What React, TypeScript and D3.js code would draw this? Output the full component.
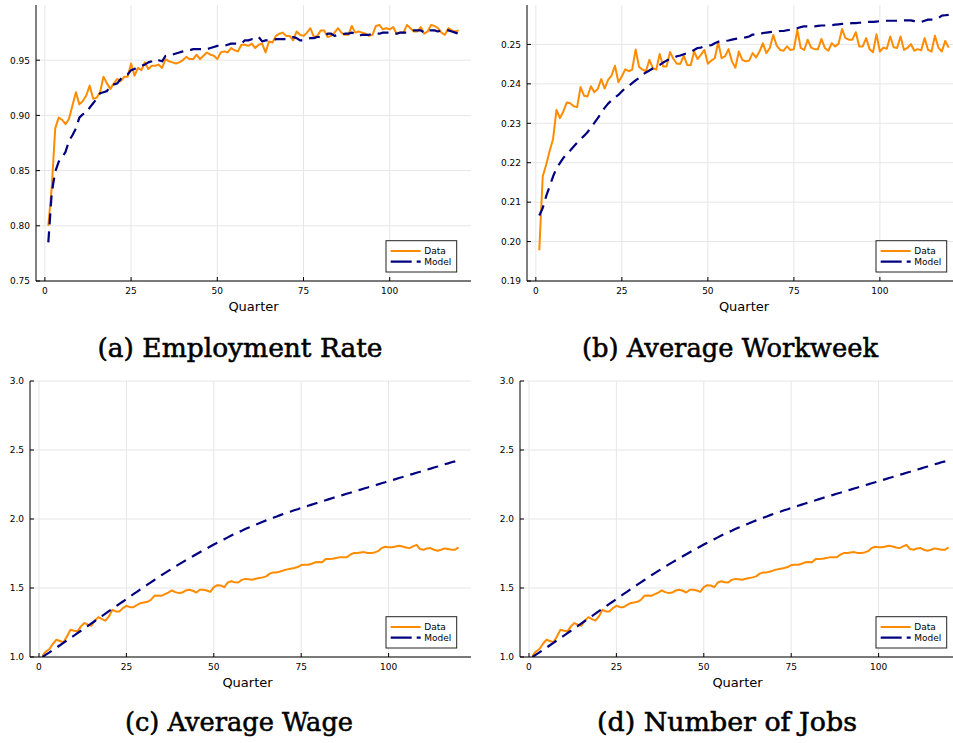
import React from 'react';
import * as d3 from 'd3';

// ---------------- data ----------------
const quarters = d3.range(1, 121);
const xTicks = [0, 25, 50, 75, 100];

const empData = [
  0.800, 0.835, 0.888, 0.898, 0.896, 0.892, 0.897, 0.909, 0.921, 0.910,
  0.913, 0.918, 0.927, 0.915, 0.916, 0.921, 0.935, 0.929, 0.924, 0.929,
  0.933, 0.931, 0.935, 0.935, 0.947, 0.936, 0.943, 0.941, 0.948, 0.942,
  0.945, 0.945, 0.946, 0.943, 0.951, 0.949, 0.948, 0.947, 0.948, 0.950,
  0.953, 0.951, 0.951, 0.955, 0.951, 0.954, 0.957, 0.955, 0.954, 0.951,
  0.957, 0.958, 0.957, 0.961, 0.959, 0.958, 0.964, 0.964, 0.963, 0.965,
  0.961, 0.964, 0.965, 0.957, 0.967, 0.966, 0.972, 0.974, 0.975, 0.972,
  0.972, 0.968, 0.976, 0.973, 0.972, 0.975, 0.979, 0.971, 0.972, 0.977,
  0.977, 0.971, 0.972, 0.975, 0.979, 0.975, 0.973, 0.973, 0.981, 0.975,
  0.976, 0.975, 0.974, 0.972, 0.973, 0.981, 0.982, 0.978, 0.979, 0.978,
  0.980, 0.974, 0.975, 0.975, 0.982, 0.979, 0.976, 0.976, 0.980, 0.974,
  0.976, 0.982, 0.981, 0.979, 0.975, 0.973, 0.979, 0.977, 0.976, 0.977,
];
const empModel = [
  0.785, 0.830, 0.849, 0.858, 0.862, 0.867, 0.877, 0.882, 0.888, 0.898,
  0.901, 0.902, 0.907, 0.911, 0.915, 0.920, 0.921, 0.922, 0.927, 0.928,
  0.929, 0.933, 0.936, 0.937, 0.941, 0.942, 0.944, 0.945, 0.946, 0.948,
  0.949, 0.951, 0.950, 0.949, 0.954, 0.954, 0.955, 0.956, 0.957, 0.958,
  0.959, 0.959, 0.960, 0.960, 0.960, 0.960, 0.960, 0.961, 0.962, 0.963,
  0.963, 0.963, 0.964, 0.965, 0.965, 0.965, 0.965, 0.968, 0.968, 0.969,
  0.969, 0.971, 0.967, 0.968, 0.968, 0.968, 0.969, 0.969, 0.969, 0.969,
  0.970, 0.971, 0.970, 0.968, 0.968, 0.969, 0.970, 0.970, 0.971, 0.971,
  0.972, 0.974, 0.974, 0.972, 0.973, 0.973, 0.974, 0.974, 0.975, 0.974,
  0.972, 0.973, 0.973, 0.973, 0.974, 0.974, 0.974, 0.975, 0.975, 0.975,
  0.974, 0.974, 0.975, 0.975, 0.975, 0.976, 0.977, 0.977, 0.977, 0.975,
  0.977, 0.977, 0.977, 0.976, 0.977, 0.977, 0.977, 0.976, 0.975, 0.974,
];

const wwData = [
  0.1978, 0.2165, 0.2195, 0.2229, 0.2260, 0.2334, 0.2313, 0.2330, 0.2353, 0.2351,
  0.2343, 0.2341, 0.2392, 0.2370, 0.2368, 0.2394, 0.2379, 0.2387, 0.2412, 0.2388,
  0.2410, 0.2421, 0.2446, 0.2404, 0.2419, 0.2437, 0.2432, 0.2436, 0.2487, 0.2443,
  0.2436, 0.2432, 0.2461, 0.2440, 0.2436, 0.2476, 0.2444, 0.2444, 0.2481, 0.2463,
  0.2451, 0.2451, 0.2471, 0.2448, 0.2447, 0.2482, 0.2463, 0.2474, 0.2486, 0.2451,
  0.2459, 0.2465, 0.2505, 0.2465, 0.2470, 0.2488, 0.2457, 0.2441, 0.2482, 0.2461,
  0.2457, 0.2459, 0.2478, 0.2467, 0.2482, 0.2503, 0.2478, 0.2491, 0.2524, 0.2497,
  0.2486, 0.2484, 0.2495, 0.2486, 0.2488, 0.2537, 0.2491, 0.2486, 0.2512, 0.2492,
  0.2488, 0.2488, 0.2514, 0.2491, 0.2484, 0.2503, 0.2495, 0.2502, 0.2539, 0.2516,
  0.2512, 0.2512, 0.2531, 0.2495, 0.2495, 0.2516, 0.2488, 0.2480, 0.2526, 0.2482,
  0.2492, 0.2489, 0.2520, 0.2493, 0.2491, 0.2520, 0.2486, 0.2491, 0.2501, 0.2484,
  0.2488, 0.2485, 0.2516, 0.2486, 0.2482, 0.2522, 0.2492, 0.2482, 0.2509, 0.2492,
];
const wwModel = [
  0.2066, 0.2085, 0.2115, 0.2140, 0.2165, 0.2186, 0.2199, 0.2212, 0.2223, 0.2231,
  0.2241, 0.2251, 0.2260, 0.2268, 0.2277, 0.2290, 0.2301, 0.2313, 0.2326, 0.2339,
  0.2350, 0.2358, 0.2366, 0.2372, 0.2381, 0.2389, 0.2395, 0.2402, 0.2409, 0.2415,
  0.2423, 0.2429, 0.2434, 0.2439, 0.2444, 0.2448, 0.2454, 0.2459, 0.2463, 0.2466,
  0.2470, 0.2472, 0.2475, 0.2478, 0.2481, 0.2486, 0.2491, 0.2492, 0.2495, 0.2497,
  0.2498, 0.2503, 0.2507, 0.2508, 0.2509, 0.2510, 0.2512, 0.2514, 0.2515, 0.2517,
  0.2518, 0.2520, 0.2525, 0.2525, 0.2525, 0.2529, 0.2530, 0.2531, 0.2532, 0.2532,
  0.2534, 0.2534, 0.2536, 0.2537, 0.2539, 0.2541, 0.2544, 0.2546, 0.2546, 0.2546,
  0.2546, 0.2547, 0.2548, 0.2548, 0.2548, 0.2549, 0.2550, 0.2551, 0.2552, 0.2552,
  0.2553, 0.2554, 0.2554, 0.2555, 0.2556, 0.2557, 0.2557, 0.2557, 0.2558, 0.2559,
  0.2560, 0.2560, 0.2560, 0.2560, 0.2560, 0.2560, 0.2561, 0.2561, 0.2561, 0.2559,
  0.2557, 0.2557, 0.2560, 0.2563, 0.2563, 0.2564, 0.2567, 0.2573, 0.2574, 0.2575,
];

const wageData = [
  1.010, 1.040, 1.058, 1.096, 1.125, 1.116, 1.106, 1.149, 1.198, 1.190,
  1.186, 1.222, 1.246, 1.234, 1.227, 1.265, 1.289, 1.275, 1.263, 1.294,
  1.342, 1.330, 1.330, 1.354, 1.371, 1.361, 1.361, 1.376, 1.390, 1.395,
  1.400, 1.414, 1.443, 1.446, 1.443, 1.455, 1.467, 1.482, 1.470, 1.463,
  1.467, 1.482, 1.487, 1.480, 1.467, 1.487, 1.487, 1.482, 1.472, 1.506,
  1.520, 1.518, 1.506, 1.540, 1.549, 1.542, 1.540, 1.559, 1.566, 1.564,
  1.560, 1.567, 1.572, 1.577, 1.584, 1.604, 1.613, 1.613, 1.620, 1.628,
  1.635, 1.640, 1.645, 1.652, 1.666, 1.669, 1.669, 1.676, 1.686, 1.688,
  1.686, 1.710, 1.710, 1.712, 1.717, 1.722, 1.722, 1.722, 1.741, 1.753,
  1.753, 1.758, 1.760, 1.753, 1.753, 1.758, 1.767, 1.789, 1.799, 1.796,
  1.796, 1.801, 1.806, 1.801, 1.794, 1.789, 1.801, 1.813, 1.782, 1.777,
  1.787, 1.789, 1.777, 1.770, 1.777, 1.787, 1.782, 1.777, 1.777, 1.794,
];
const wageModel = [
  1.000, 1.017, 1.034, 1.051, 1.068, 1.085, 1.103, 1.120, 1.138, 1.155,
  1.173, 1.190, 1.208, 1.225, 1.243, 1.261, 1.279, 1.296, 1.314, 1.332,
  1.350, 1.367, 1.385, 1.402, 1.420, 1.437, 1.455, 1.472, 1.490, 1.507,
  1.524, 1.541, 1.558, 1.575, 1.592, 1.608, 1.624, 1.640, 1.656, 1.671,
  1.686, 1.701, 1.716, 1.730, 1.745, 1.759, 1.773, 1.787, 1.801, 1.815,
  1.828, 1.841, 1.854, 1.867, 1.880, 1.892, 1.904, 1.915, 1.927, 1.938,
  1.948, 1.959, 1.969, 1.980, 1.990, 1.999, 2.009, 2.018, 2.028, 2.037,
  2.046, 2.054, 2.063, 2.071, 2.080, 2.088, 2.096, 2.104, 2.112, 2.120,
  2.128, 2.136, 2.144, 2.152, 2.160, 2.168, 2.175, 2.183, 2.190, 2.198,
  2.206, 2.213, 2.221, 2.228, 2.236, 2.244, 2.251, 2.259, 2.266, 2.274,
  2.282, 2.289, 2.297, 2.304, 2.312, 2.320, 2.327, 2.335, 2.342, 2.350,
  2.358, 2.365, 2.373, 2.380, 2.388, 2.396, 2.403, 2.411, 2.418, 2.426,
];

// panel (d) traces coincide with panel (c) in the reference figure
const jobsData = wageData.slice();
const jobsModel = wageModel.slice();

const empTicks = [0.75, 0.8, 0.85, 0.9, 0.95];
const wwTicks = [0.19, 0.2, 0.21, 0.22, 0.23, 0.24, 0.25];
const wageTicks = [1.0, 1.5, 2.0, 2.5, 3.0];

const titles = ['(a) Employment Rate', '(b) Average Workweek', '(c) Average Wage', '(d) Number of Jobs'];
const seriesNames = ['Data', 'Model'];

// ---------------- layout ----------------
const W = 953;
const H = 743;
const X_DOMAIN: [number, number] = [-2.57, 123.57];
const DATA_COLOR = '#ff8c00';
const MODEL_COLOR = '#000080';
const GRID = '#e6e6e6';
const SANS = 'DejaVu Sans, sans-serif';

type PanelCfg = {
  key: string;
  title: string;
  x0: number; x1: number; top: number; bottom: number;
  yDomain: [number, number];
  yTicks: number[];
  fmt: string;
  data: number[];
  model: number[];
  capX: number; capY: number; capLen: number;
};

const panels: PanelCfg[] = [
  { key: 'a', title: titles[0], x0: 36, x1: 471, top: 5, bottom: 281, yDomain: [0.75, 1.0], yTicks: empTicks, fmt: '.2f', data: empData, model: empModel, capX: 240, capY: 357, capLen: 285 },
  { key: 'b', title: titles[1], x0: 527, x1: 961, top: 5, bottom: 281, yDomain: [0.19, 0.26], yTicks: wwTicks, fmt: '.2f', data: wwData, model: wwModel, capX: 730, capY: 357, capLen: 296 },
  { key: 'c', title: titles[2], x0: 30, x1: 471, top: 381, bottom: 657, yDomain: [1.0, 3.0], yTicks: wageTicks, fmt: '.1f', data: wageData, model: wageModel, capX: 239, capY: 731, capLen: 228 },
  { key: 'd', title: titles[3], x0: 520, x1: 961, top: 381, bottom: 657, yDomain: [1.0, 3.0], yTicks: wageTicks, fmt: '.1f', data: jobsData, model: jobsModel, capX: 727, capY: 731, capLen: 260 },
];

function Panel({ p }: { p: PanelCfg }) {
  const x = d3.scaleLinear().domain(X_DOMAIN).range([p.x0, p.x1]);
  const y = d3.scaleLinear().domain(p.yDomain).range([p.bottom, p.top]);
  const fmt = d3.format(p.fmt);
  const line = d3.line<number>().x((_, i) => x(quarters[i])).y((v) => y(v));
  const clipId = `clip-${p.key}`;
  const legR = p.x1 - 14.3;
  const legL = p.x1 - 85;
  const legT = p.bottom - 40.3;
  const legB = p.bottom - 9;
  const row1 = legT + 10.3;
  const row2 = legT + 21;
  const labelX = (p.x0 + Math.min(p.x1, p.x0 + 435)) / 2;
  return (
    <g>
      <defs>
        <clipPath id={clipId}>
          <rect x={p.x0} y={p.top - 2} width={p.x1 - p.x0} height={p.bottom - p.top + 2} />
        </clipPath>
      </defs>
      {/* grid */}
      {xTicks.map((t) => (
        <line key={'gx' + t} x1={x(t)} x2={x(t)} y1={p.top} y2={p.bottom} stroke={GRID} strokeWidth={1} />
      ))}
      {p.yTicks.map((t) => (
        <line key={'gy' + t} x1={p.x0} x2={p.x1} y1={y(t)} y2={y(t)} stroke={GRID} strokeWidth={1} />
      ))}
      {/* series */}
      <g clipPath={`url(#${clipId})`}>
        <path d={line(p.data) || ''} fill="none" stroke={DATA_COLOR} strokeWidth={2} strokeLinejoin="round" />
        <path d={line(p.model) || ''} fill="none" stroke={MODEL_COLOR} strokeWidth={2.2} strokeDasharray="11,7" strokeLinejoin="round" />
      </g>
      {/* axes */}
      <line x1={p.x0} x2={p.x0} y1={p.top} y2={p.bottom} stroke="#000" strokeWidth={1} />
      <line x1={p.x0} x2={p.x1} y1={p.bottom} y2={p.bottom} stroke="#000" strokeWidth={1} />
      {xTicks.map((t) => (
        <g key={'tx' + t}>
          <line x1={x(t)} x2={x(t)} y1={p.bottom} y2={p.bottom - 4} stroke="#000" strokeWidth={1} />
          <text x={x(t)} y={p.bottom + 13} textAnchor="middle" fontFamily={SANS} fontSize={9} fill="#000">{t}</text>
        </g>
      ))}
      {p.yTicks.map((t) => (
        <g key={'ty' + t}>
          <line x1={p.x0} x2={p.x0 + 4} y1={y(t)} y2={y(t)} stroke="#000" strokeWidth={1} />
          <text x={p.x0 - 6} y={y(t) + 3.3} textAnchor="end" fontFamily={SANS} fontSize={9} fill="#000">{fmt(t)}</text>
        </g>
      ))}
      <text x={labelX} y={p.bottom + 29.5} textAnchor="middle" fontFamily={SANS} fontSize={13} fill="#000">Quarter</text>
      {/* legend */}
      <rect x={legL} y={legT} width={legR - legL} height={legB - legT} fill="#fff" stroke="#222" strokeWidth={1} />
      <line x1={legL + 4.7} x2={legL + 34.7} y1={row1} y2={row1} stroke={DATA_COLOR} strokeWidth={2} />
      <line x1={legL + 4.7} x2={legL + 34.7} y1={row2} y2={row2} stroke={MODEL_COLOR} strokeWidth={2.2} strokeDasharray="21,5" />
      <text x={legL + 38.3} y={row1 + 3.3} fontFamily={SANS} fontSize={9} fill="#000">{seriesNames[0]}</text>
      <text x={legL + 38.3} y={row2 + 3.3} fontFamily={SANS} fontSize={9} fill="#000">{seriesNames[1]}</text>
      {/* caption */}
      <text x={p.capX} y={p.capY} textAnchor="middle" fontFamily="DejaVu Serif, serif" fontSize={26} textLength={p.capLen} lengthAdjust="spacingAndGlyphs" fill="#000" stroke="#000" strokeWidth={0.55}>{p.title}</text>
    </g>
  );
}

export default function App() {
  return (
    <svg width={W} height={H} viewBox={`0 0 ${W} ${H}`} style={{ position: 'absolute', left: 0, top: 0, display: 'block', background: '#fff' }}>
      <rect x={0} y={0} width={W} height={H} fill="#fff" />
      {panels.map((p) => <Panel key={p.key} p={p} />)}
    </svg>
  );
}
